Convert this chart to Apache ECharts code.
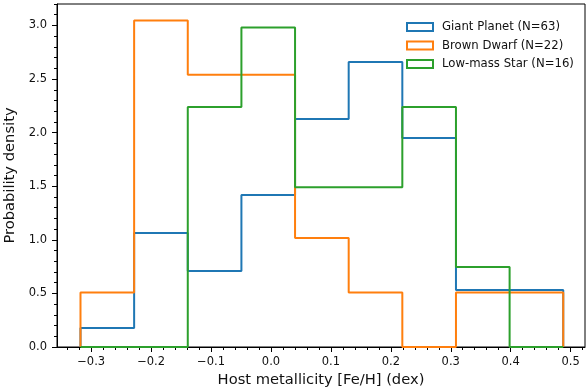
<!DOCTYPE html>
<html>
<head>
<meta charset="utf-8">
<script src="https://cdn.jsdelivr.net/npm/echarts@6/dist/echarts.min.js"></script>
<style>
  html, body { margin: 0; padding: 0; background: #fff; }
  #chart { width: 588px; height: 392px; }
</style>
</head>
<body>
<div id="chart"></div>
<script>
// BIN EDGES (shared by all three histograms)
const binEdges = [-0.3178, -0.2283, -0.1388, -0.0493, 0.0402, 0.1297, 0.2192, 0.3087, 0.3982, 0.4877];

// DENSITY PER BIN
const giantPlanet = [0.177, 1.064, 0.709, 1.419, 2.128, 2.660, 1.951, 0.532, 0.532];
const brownDwarf = [0.508, 3.047, 2.539, 2.539, 1.016, 0.508, 0.0, 0.508, 0.508];
const lowMassStar = [0.0, 0.0, 2.24, 2.98, 1.49, 1.49, 2.24, 0.746, 0.0];

const seriesNames = ['Giant Planet (N=63)', 'Brown Dwarf (N=22)', 'Low-mass Star (N=16)'];
const seriesColors = ['#1f77b4', '#ff7f0e', '#2ca02c'];

// TICKS
const xMajorTicks = [-0.3, -0.2, -0.1, 0.0, 0.1, 0.2, 0.3, 0.4, 0.5];
const xMinorTicks = [-0.34, -0.32, -0.28, -0.26, -0.24, -0.22, -0.18, -0.16, -0.14, -0.12,
    -0.08, -0.06, -0.04, -0.02, 0.02, 0.04, 0.06, 0.08, 0.12, 0.14, 0.16, 0.18,
    0.22, 0.24, 0.26, 0.28, 0.32, 0.34, 0.36, 0.38, 0.42, 0.44, 0.46, 0.48, 0.52];
const yMajorTicks = [0.0, 0.5, 1.0, 1.5, 2.0, 2.5, 3.0];
const yMinorTicks = [0.1, 0.2, 0.3, 0.4, 0.6, 0.7, 0.8, 0.9, 1.1, 1.2, 1.3, 1.4,
    1.6, 1.7, 1.8, 1.9, 2.1, 2.2, 2.3, 2.4, 2.6, 2.7, 2.8, 2.9, 3.1, 3.2];

const FONT = 'DejaVu Sans';

// outline of a step histogram, like histtype='step'
function stepOutline(edges, values) {
    const pts = [[edges[0], 0]];
    values.forEach((v, i) => {
        pts.push([edges[i], v]);
        pts.push([edges[i + 1], v]);
    });
    pts.push([edges[edges.length - 1], 0]);
    return pts;
}

const chart = echarts.init(document.getElementById('chart'), null, { renderer: 'canvas' });

const tickLabel = (v) => (v < 0 ? '\u2212' : '') + Math.abs(v).toFixed(1);

const xBase = { type: 'value', min: -0.357, max: 0.524, gridIndex: 0, position: 'bottom' };
const yBase = { type: 'value', min: 0, max: 3.2, gridIndex: 0, position: 'left' };

const option = {
    animation: false,
    backgroundColor: '#fff',
    grid: {
        left: 57, right: 3, top: 4, bottom: 45,
        outerBoundsMode: 'none',
        containLabel: false,
        show: true,
        borderColor: '#000',
        borderWidth: 1,
        backgroundColor: 'transparent'
    },
    legend: {
        orient: 'vertical',
        left: 401,
        top: 16,
        itemWidth: 26,
        itemHeight: 8,
        itemGap: 6.5,
        textStyle: { fontFamily: FONT, fontSize: 11.7, color: '#111', padding: [0, 0, 0, 4] },
        data: seriesNames.map((name, i) => ({
            name: name,
            icon: 'rect',
            itemStyle: { color: 'rgba(0,0,0,0)', borderColor: seriesColors[i], borderWidth: 2 }
        }))
    },
    xAxis: [
        Object.assign({}, xBase, {
            name: 'Host metallicity [Fe/H] (dex)',
            nameLocation: 'middle',
            nameGap: 26,
            nameTextStyle: { fontFamily: FONT, fontSize: 14.7, color: '#111' },
            axisLine: { show: true, onZero: false, lineStyle: { color: '#000', width: 1 } },
            axisTick: { show: true, length: 5, lineStyle: { color: '#000' }, customValues: xMajorTicks },
            axisLabel: { fontFamily: FONT, fontSize: 11.5, color: '#111', margin: 9,
                customValues: xMajorTicks, formatter: tickLabel },
            splitLine: { show: false }
        }),
        Object.assign({}, xBase, {
            axisLine: { show: false, onZero: false },
            axisTick: { show: true, length: 3, lineStyle: { color: '#000' }, customValues: xMinorTicks },
            axisLabel: { show: false },
            splitLine: { show: false }
        })
    ],
    yAxis: [
        Object.assign({}, yBase, {
            name: 'Probability density',
            nameLocation: 'middle',
            nameGap: 33,
            nameTextStyle: { fontFamily: FONT, fontSize: 14.7, color: '#111' },
            axisLine: { show: true, onZero: false, lineStyle: { color: '#000', width: 1 } },
            axisTick: { show: true, length: 5, lineStyle: { color: '#000' }, customValues: yMajorTicks },
            axisLabel: { fontFamily: FONT, fontSize: 11.5, color: '#111', margin: 10,
                customValues: yMajorTicks, formatter: tickLabel },
            splitLine: { show: false }
        }),
        Object.assign({}, yBase, {
            axisLine: { show: false, onZero: false },
            axisTick: { show: true, length: 3, lineStyle: { color: '#000' }, customValues: yMinorTicks },
            axisLabel: { show: false },
            splitLine: { show: false }
        })
    ],
    series: [giantPlanet, brownDwarf, lowMassStar].map((vals, i) => ({
        name: seriesNames[i],
        type: 'line',
        xAxisIndex: 0,
        yAxisIndex: 0,
        data: stepOutline(binEdges, vals),
        showSymbol: false,
        symbol: 'none',
        clip: false,
        color: seriesColors[i],
        lineStyle: { color: seriesColors[i], width: 2 },
        z: 2 + i
    }))
};

chart.setOption(option);
</script>
</body>
</html>
